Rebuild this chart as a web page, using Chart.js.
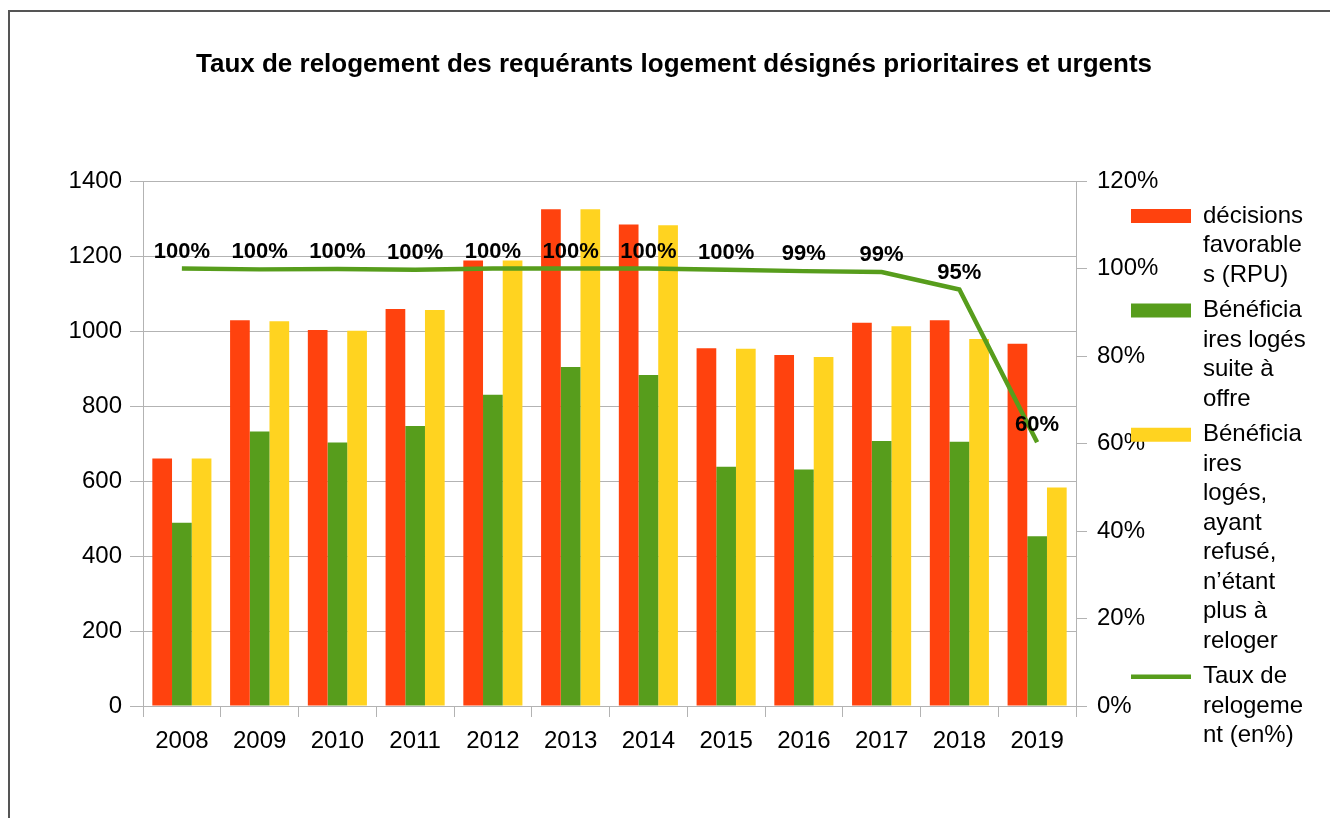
<!DOCTYPE html>
<html lang="fr">
<head>
<meta charset="utf-8">
<title>Taux de relogement</title>
<script src="https://cdn.jsdelivr.net/npm/chart.js@4.4.1/dist/chart.umd.min.js"></script>
<style>
    html, body { margin: 0; padding: 0; background: #fff; }
    #wrap { position: relative; width: 1330px; height: 818px; overflow: hidden; }
    #frame {
        position: absolute; left: 8px; top: 10px; width: 1400px; height: 900px;
        border-left: 2px solid #555; border-top: 2px solid #555;
        pointer-events: none;
    }
    canvas { position: absolute; left: 0; top: 0; }
</style>
</head>
<body>
<div id="wrap">
    <canvas id="relogementChart" width="1330" height="818"></canvas>
    <div id="frame"></div>
</div>
<script>
// Values
const years = ['2008', '2009', '2010', '2011', '2012', '2013', '2014', '2015', '2016', '2017', '2018', '2019'];
const decisionsFavorables = [660, 1029, 1003, 1059, 1188, 1325, 1284, 954, 936, 1022, 1029, 966];
const logesSuiteOffre = [489, 732, 703, 747, 830, 904, 883, 638, 631, 707, 705, 453];
const logesAyantRefuse = [660, 1026, 1001, 1056, 1188, 1325, 1282, 953, 931, 1013, 979, 583];
const tauxRelogement = [1.0, 0.998, 0.999, 0.997, 1.0, 1.0, 1.0, 0.997, 0.994, 0.992, 0.952, 0.603];

// Legend text, wrapped the same way as the original
const legendLines = [
    ['décisions', 'favorable', 's (RPU)'],
    ['Bénéficia', 'ires logés', 'suite à', 'offre'],
    ['Bénéficia', 'ires', 'logés,', 'ayant', 'refusé,', 'n’étant', 'plus à', 'reloger'],
    ['Taux de', 'relogeme', 'nt (en%)']
];

const RED = '#ff420e';
const GREEN = '#579d1c';
const YELLOW = '#ffd320';
const GRID = '#b3b3b3';
const FONT = '"Liberation Sans", Arial, sans-serif';

document.addEventListener("DOMContentLoaded", function() {
    const ctx = document.getElementById('relogementChart').getContext('2d');

    Chart.defaults.font.family = FONT;
    Chart.defaults.color = '#000';

    // Draws the percentage above each point of the line
    const pointLabels = {
        id: 'pointLabels',
        afterDatasetsDraw(chart) {
            const meta = chart.getDatasetMeta(3);
            const c = chart.ctx;
            c.save();
            c.font = 'bold 22px ' + FONT;
            c.fillStyle = '#000';
            c.textAlign = 'center';
            c.textBaseline = 'middle';
            meta.data.forEach((pt, i) => {
                const txt = Math.round(tauxRelogement[i] * 100) + '%';
                c.fillText(txt, pt.x, pt.y - 17);
            });
            c.restore();
        }
    };

    // Title in the original is centred a bit right of the canvas middle
    const shiftTitle = {
        id: 'shiftTitle',
        afterLayout(chart) {
            if (chart.titleBlock) {
                chart.titleBlock.left += 19;
                chart.titleBlock.right += 19;
            }
        }
    };

    const data = {
        labels: years,
        datasets: [{
            label: 'décisions favorables (RPU)',
            data: decisionsFavorables,
            backgroundColor: RED,
            yAxisID: 'y'
        }, {
            label: 'Bénéficiaires logés suite à offre',
            data: logesSuiteOffre,
            backgroundColor: GREEN,
            yAxisID: 'y'
        }, {
            label: 'Bénéficiaires logés, ayant refusé, n’étant plus à reloger',
            data: logesAyantRefuse,
            backgroundColor: YELLOW,
            yAxisID: 'y'
        }, {
            type: 'line',
            label: 'Taux de relogement (en%)',
            data: tauxRelogement,
            borderColor: GREEN,
            backgroundColor: GREEN,
            borderWidth: 4.5,
            pointRadius: 0,
            tension: 0,
            fill: false,
            order: -1,
            yAxisID: 'y1'
        }]
    };

    const config = {
        type: 'bar',
        data: data,
        plugins: [pointLabels, shiftTitle],
        options: {
            responsive: false,
            animation: false,
            layout: { padding: { left: 0, right: 20, top: 0, bottom: 0 } },
            datasets: {
                bar: { categoryPercentage: 0.76, barPercentage: 1.0 }
            },
            plugins: {
                tooltip: { enabled: false },
                title: {
                    display: true,
                    text: 'Taux de relogement des requérants logement désignés prioritaires et urgents',
                    font: { size: 26, weight: 'bold', lineHeight: 1.2 },
                    padding: { top: 49.4, bottom: 100.4 }
                },
                legend: {
                    position: 'right',
                    align: 'start',
                    maxWidth: 185,
                    title: {
                        display: true,
                        text: '',
                        font: { size: 10, lineHeight: 1 },
                        padding: { top: 188, bottom: 0 }
                    },
                    labels: {
                        usePointStyle: true,
                        pointStyleWidth: 60,
                        boxHeight: 14,
                        padding: 6,
                        font: { size: 24, lineHeight: 1.23 },
                        sort: (a, b) => a.datasetIndex - b.datasetIndex,
                        generateLabels: function(chart) {
                            const items = Chart.defaults.plugins.legend.labels.generateLabels(chart);
                            items.forEach(item => {
                                item.text = legendLines[item.datasetIndex];
                                if (item.datasetIndex === 3) {
                                    item.pointStyle = 'line';
                                    item.strokeStyle = GREEN;
                                    item.lineWidth = 4.5;
                                } else {
                                    item.pointStyle = 'rect';
                                    item.lineWidth = 0;
                                }
                            });
                            return items;
                        }
                    }
                }
            },
            scales: {
                x: {
                    offset: true,
                    afterFit: function(scale) { scale.height = 112; },
                    grid: {
                        offset: true,
                        drawOnChartArea: false,
                        tickLength: 11,
                        color: GRID
                    },
                    border: { color: GRID },
                    ticks: { font: { size: 24 }, padding: 10, maxRotation: 0 }
                },
                y: {
                    position: 'left',
                    min: 0,
                    max: 1400,
                    afterFit: function(scale) { scale.width = 143; },
                    grid: { color: GRID, tickLength: 13 },
                    border: { color: GRID },
                    ticks: {
                        stepSize: 200,
                        font: { size: 24 },
                        padding: 8,
                        callback: value => String(value)
                    }
                },
                y1: {
                    position: 'right',
                    min: 0,
                    max: 1.2,
                    afterFit: function(scale) {
                        // narrow axis so the legend sits over the labels like the original;
                        // don't clip the labels to the narrowed box
                        scale.width = 49;
                        scale._computeLabelArea = function() { return undefined; };
                    },
                    grid: { drawOnChartArea: false, color: GRID, tickLength: 11 },
                    border: { color: GRID },
                    ticks: {
                        z: -1, // legend boxes are drawn over these labels
                        stepSize: 0.2,
                        font: { size: 24 },
                        padding: 10,
                        callback: value => Math.round(value * 100) + '%'
                    }
                }
            }
        }
    };

    const relogementChart = new Chart(ctx, config);
});
</script>
</body>
</html>
